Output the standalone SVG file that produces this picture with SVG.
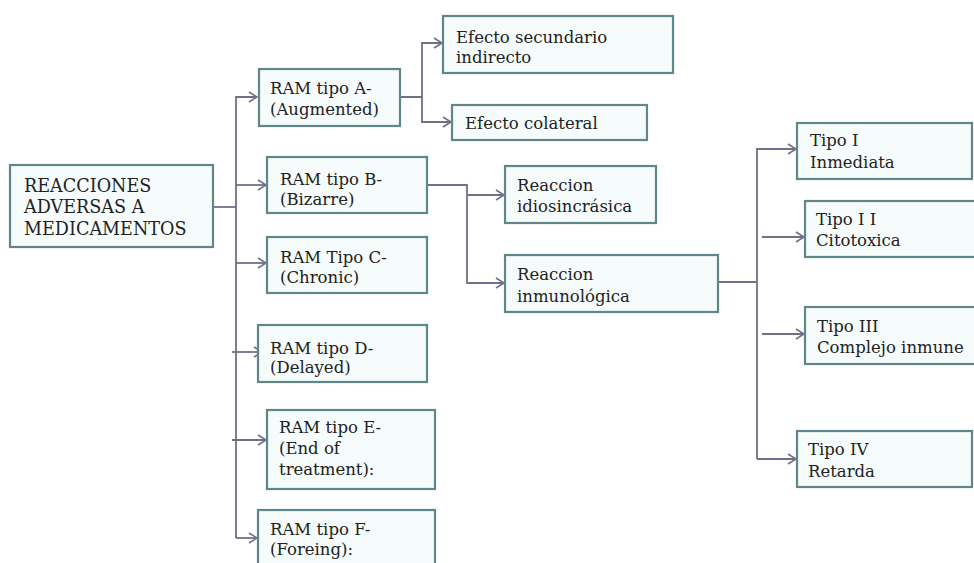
<svg xmlns="http://www.w3.org/2000/svg" width="974" height="563" viewBox="0 0 974 563">
<defs>
<marker id="arr" markerWidth="12" markerHeight="12" refX="10" refY="6" orient="auto" markerUnits="userSpaceOnUse">
<path d="M2,1 L10,6 L2,11" fill="none" stroke="#6e7189" stroke-width="1.6"/>
</marker>
<style>
.box{fill:#f6fbfb;stroke:#5f8787;stroke-width:2.2}
.t{font-family:"DejaVu Serif","Liberation Serif",serif;font-size:16.5px;fill:#222222}
.big{font-size:17.6px}
.c{fill:none;stroke:#6e7189;stroke-width:1.8}
</style>
</defs>
<rect width="974" height="563" fill="#ffffff"/>
<g id="connectors">
<path class="c" d="M213,207 H236"/>
<path class="c" d="M236,538 V97 H257" marker-end="url(#arr)"/>
<path class="c" d="M236,185 H266" marker-end="url(#arr)"/>
<path class="c" d="M236,263 H266" marker-end="url(#arr)"/>
<path class="c" d="M232,352 H262" marker-end="url(#arr)"/>
<path class="c" d="M232,440 H266" marker-end="url(#arr)"/>
<path class="c" d="M236,538 H257" marker-end="url(#arr)"/>
<path class="c" d="M400,97 H422 V43 H442" marker-end="url(#arr)"/>
<path class="c" d="M422,97 V122 H451" marker-end="url(#arr)"/>
<path class="c" d="M427,185 H467 V283 H504" marker-end="url(#arr)"/>
<path class="c" d="M467,195 H504" marker-end="url(#arr)"/>
<path class="c" d="M718,282 H757"/>
<path class="c" d="M757,459 V149 H796" marker-end="url(#arr)"/>
<path class="c" d="M762,237 H804" marker-end="url(#arr)"/>
<path class="c" d="M762,334 H804" marker-end="url(#arr)"/>
<path class="c" d="M757,459 H796" marker-end="url(#arr)"/>
</g>
<g id="main">
<rect class="box" x="10" y="165" width="203" height="82"/>
<text class="t big" x="24" y="192">REACCIONES</text>
<text class="t big" x="24" y="213">ADVERSAS A</text>
<text class="t big" x="24" y="235">MEDICAMENTOS</text>
</g>
<g id="ramA">
<rect class="box" x="259" y="69" width="141" height="57"/>
<text class="t" x="270" y="94">RAM tipo A-</text>
<text class="t" x="270" y="115">(Augmented)</text>
</g>
<g id="efectoSecundario">
<rect class="box" x="443" y="16" width="230" height="57"/>
<text class="t" x="456" y="43">Efecto secundario</text>
<text class="t" x="456" y="63">indirecto</text>
</g>
<g id="efectoColateral">
<rect class="box" x="452" y="105" width="195" height="35"/>
<text class="t" x="465" y="129">Efecto colateral</text>
</g>
<g id="ramB">
<rect class="box" x="267" y="157" width="160" height="56"/>
<text class="t" x="280" y="185">RAM tipo B-</text>
<text class="t" x="280" y="205">(Bizarre)</text>
</g>
<g id="ramC">
<rect class="box" x="267" y="237" width="160" height="56"/>
<text class="t" x="280" y="263">RAM Tipo C-</text>
<text class="t" x="280" y="283">(Chronic)</text>
</g>
<g id="ramD">
<rect class="box" x="258" y="325" width="169" height="57"/>
<text class="t" x="270" y="354">RAM tipo D-</text>
<text class="t" x="270" y="373">(Delayed)</text>
</g>
<g id="ramE">
<rect class="box" x="267" y="410" width="168" height="79"/>
<text class="t" x="279" y="433">RAM tipo E-</text>
<text class="t" x="279" y="454">(End of</text>
<text class="t" x="279" y="475">treatment):</text>
</g>
<g id="ramF">
<rect class="box" x="258" y="510" width="177" height="70"/>
<text class="t" x="270" y="535">RAM tipo F-</text>
<text class="t" x="270" y="555">(Foreing):</text>
</g>
<g id="idiosincrasica">
<rect class="box" x="505" y="166" width="151" height="57"/>
<text class="t" x="517" y="191">Reaccion</text>
<text class="t" x="517" y="212">idiosincrásica</text>
</g>
<g id="inmunologica">
<rect class="box" x="505" y="255" width="213" height="57"/>
<text class="t" x="517" y="280">Reaccion</text>
<text class="t" x="517" y="302">inmunológica</text>
</g>
<g id="tipoI">
<rect class="box" x="797" y="123" width="175" height="56"/>
<text class="t" x="810" y="146">Tipo I</text>
<text class="t" x="810" y="168">Inmediata</text>
</g>
<g id="tipoII">
<rect class="box" x="805" y="201" width="180" height="56"/>
<text class="t" x="816" y="225">Tipo I I</text>
<text class="t" x="816" y="246">Citotoxica</text>
</g>
<g id="tipoIII">
<rect class="box" x="805" y="307" width="180" height="57"/>
<text class="t" x="817" y="332">Tipo III</text>
<text class="t" x="817" y="353">Complejo inmune</text>
</g>
<g id="tipoIV">
<rect class="box" x="797" y="431" width="175" height="56"/>
<text class="t" x="808" y="455">Tipo IV</text>
<text class="t" x="808" y="477">Retarda</text>
</g>
</svg>
